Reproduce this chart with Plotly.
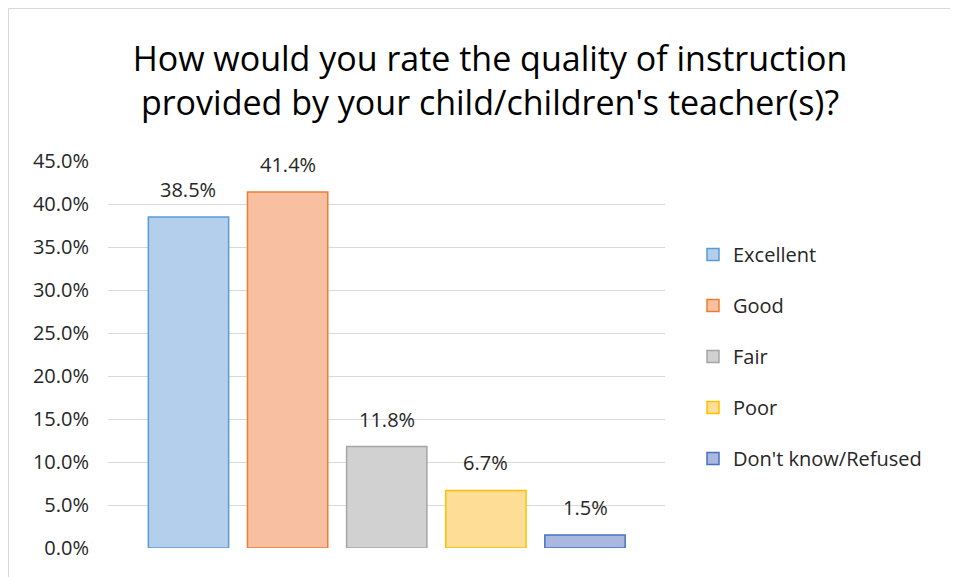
import plotly.graph_objects as go

categories = ["Excellent", "Good", "Fair", "Poor", "Don't know/Refused"]
values = [0.385, 0.414, 0.118, 0.067, 0.015]
labels = ["38.5%", "41.4%", "11.8%", "6.7%", "1.5%"]
fill_colors = ["#b4cfec", "#f8c0a1", "#d1d1d1", "#fedd96", "#aab8e0"]
line_colors = ["#5b9bd5", "#ed7d31", "#a5a5a5", "#ffc000", "#4472c4"]
y_ticks = [0.0, 0.05, 0.10, 0.15, 0.20, 0.25, 0.30, 0.35, 0.40, 0.45]
y_ticklabels = ["0.0%", "5.0%", "10.0%", "15.0%", "20.0%", "25.0%", "30.0%", "35.0%", "40.0%", "45.0%"]

FONT = "Open Sans"
# plot area in figure pixels
L, R, T, B = 100, 657, 153, 540
W, H = R - L, B - T

fig = go.Figure()
for i, cat in enumerate(categories):
    fig.add_trace(go.Bar(
        x=[cat], y=[values[i]], name=cat, width=0.81,
        legendgroup=cat,
        marker=dict(color=fill_colors[i], line=dict(color=line_colors[i], width=1.5)),
        hoverinfo="skip",
    ))
    fig.add_annotation(
        x=cat, y=values[i], text=labels[i], showarrow=False,
        yanchor="bottom", yshift=12,
        font=dict(family=FONT, size=20, color="#262626"),
    )

# chart area outline
fig.add_shape(
    type="rect", xref="paper", yref="paper",
    x0=(0.5 - L) / W, x1=(1000 - L) / W,
    y0=-0.2, y1=1 + (T - 0.5) / H,
    line=dict(color="#d9d9d9", width=1), fillcolor="rgba(0,0,0,0)", layer="below",
)

fig.update_layout(
    width=958, height=577,
    margin=dict(l=L, r=958 - R, t=T, b=577 - B, autoexpand=False),
    paper_bgcolor="white", plot_bgcolor="white",
    barmode="overlay",
    title=dict(
        text="How would you rate the quality of instruction<br>provided by your child/children's teacher(s)?",
        x=482 / 958, xanchor="center", y=1 - 63 / 577, yanchor="middle",
        font=dict(family=FONT, size=34, color="#000000"),
    ),
    xaxis=dict(
        categoryorder="array", categoryarray=categories,
        range=[-0.812, 4.807], showticklabels=False, showgrid=False,
        zeroline=False, showline=False, fixedrange=True,
    ),
    yaxis=dict(
        range=[0, 0.45], tickvals=y_ticks, ticktext=y_ticklabels,
        showgrid=True, gridcolor="#d9d9d9", gridwidth=1.3,
        zeroline=False, showline=False, ticks="", ticklen=0,
        ticklabelstandoff=18,
        tickfont=dict(family=FONT, size=20, color="#262626"),
    ),
    legend=dict(
        x=(685 - L) / W, xanchor="left", y=1 - (227 - T) / H, yanchor="top",
        font=dict(family=FONT, size=20, color="#262626"),
        tracegroupgap=22, itemwidth=30, bgcolor="rgba(0,0,0,0)",
    ),
    showlegend=True,
)

fig.write_html("out.html")
